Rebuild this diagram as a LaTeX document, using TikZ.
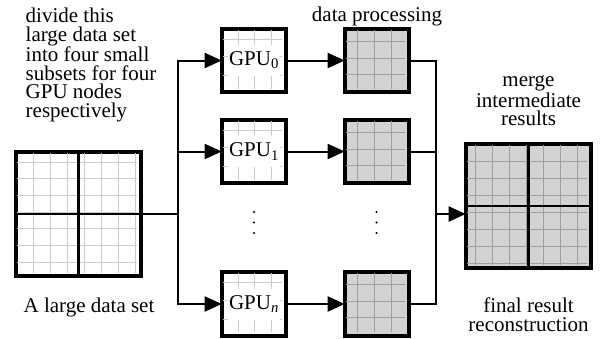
\documentclass[tikz,border=0pt]{standalone}
\usepackage{fontspec}
\setmainfont{Liberation Serif}
\usetikzlibrary{arrows.meta, positioning}

% thin cell lines inside a box: style, node, size, x offsets, y offsets
\newcommand{\cells}[5]{%
  \foreach \d in {#4} \draw[#1, shift={(#2.north west)}] (\d,1.3) -- (\d,#3-1.3);
  \foreach \d in {#5} \draw[#1, shift={(#2.north west)}] (1.3,\d) -- (#3-1.3,\d);
}

\begin{document}
\begin{tikzpicture}[x=1pt, y=-1pt,
    every node/.style={font=\fontsize{21}{18.5}\selectfont, inner sep=0pt},
    box/.style={draw, line width=2.6pt, minimum size=62pt},
    bigbox/.style={box, minimum size=123pt},
    done/.style={fill=gray!35},
    light/.style={gray!40, line width=1.3pt},
    dark/.style={gray!75, line width=1.3pt},
    split/.style={line width=2.3pt},
    link/.style={line width=2pt},
    gpulabel/.style={fill=white, minimum width=52pt, minimum height=31pt},
    >={Triangle[length=17pt, width=15pt]}]
  \useasboundingbox (0,0) rectangle (601,338);

  \node [bigbox] (data) at (78.5,214) {};
  \node [box] (gpu0) at (254,60.5) {};
  \node [box] (gpu1) at (254,151.5) {};
  \node [box] (gpun) at (254,304) {};
  \node [box,done] (res0) at (377,60.5) {};
  \node [box,done] (res1) at (377,151.5) {};
  \node [box,done] (resn) at (377,304) {};
  \node [bigbox,done] (result) at (528.5,206) {};

  \cells{light}{data}{123}{18,35,52,69,86,103,120}{11,27,44,61,77,94,111}
  \cells{dark}{result}{123}{10,27,44,61,78,95,112}{18,35,52,69,86,103,120}
  \foreach \n in {gpu0,gpu1,gpun} \cells{light}{\n}{62}{17,33,50}{11,28.5,47.5}
  \foreach \n in {res0,res1,resn} \cells{dark}{\n}{62}{13,30,47}{13,30,46}
  \foreach \n in {data,result} {
    \draw[split] (\n.north) -- (\n.south);
    \draw[split] (\n.west) -- (\n.east);
  }
  \foreach \n in {data,gpu0,gpu1,gpun,res0,res1,resn,result}
    \draw[line width=2.6pt] (\n.south west) rectangle (\n.north east);

  \node [gpulabel] (gpu0-name) at (gpu0) {GPU\textsubscript{0}};
  \node [gpulabel] (gpu1-name) at (gpu1) {GPU\textsubscript{1}};
  \node [gpulabel] (gpun-name) at (gpun) {GPU\textsubscript{\textit{n}}};

  \coordinate (fork) at (178,214);
  \coordinate (merge) at (436,214);
  \draw[link] (data) -- (fork);
  \foreach \i in {0,1,n} {
    \draw[link,->] (fork) |- (gpu\i);
    \draw[link,->] (gpu\i) -- (res\i);
    \draw[link] (res\i) -| (merge);
  }
  \draw[link,->] (merge) -- (merge -| result.west);

  \foreach \y in {212,222.5,233} {
    \fill (254,\y) circle (1.2);
    \fill (376.5,\y) circle (1.2);
  }

  \node [anchor=north west, align=left] (divide) at (25.5,8)
    {divide this\\large data set\\into four small\\subsets for four\\GPU nodes\\respectively};
  \node [anchor=base] (data-name) at (89,312) {A large data set};
  \node [anchor=base] (process) at (377,21) {data processing};
  \node [anchor=south, align=center] (merge-name) at (528.5,126) {merge\\intermediate\\results};
  \node [anchor=north, align=center] (final) at (528.5,298) {final result\\reconstruction};
\end{tikzpicture}
\end{document}
